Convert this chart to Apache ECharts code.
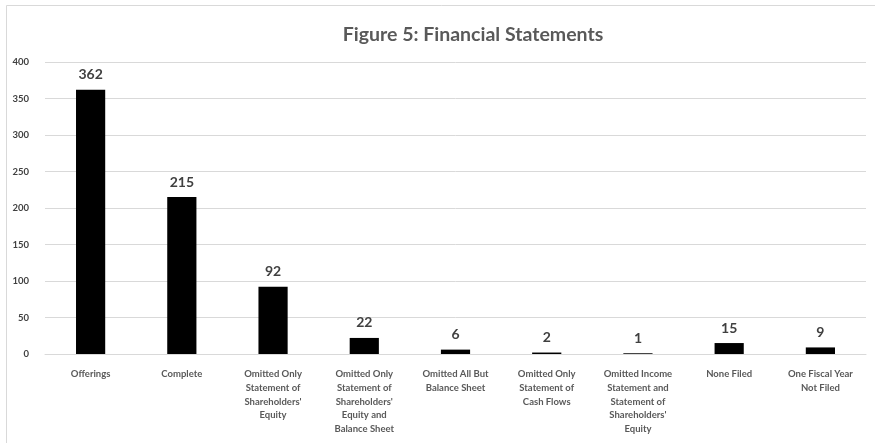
<!DOCTYPE html>
<html>
<head>
<meta charset="utf-8">
<script src="https://cdn.jsdelivr.net/npm/echarts@6/dist/echarts.min.js"></script>
<style>
  html, body { margin: 0; padding: 0; background: #fff; }
  #chart { width: 875px; height: 443px; }
</style>
</head>
<body>
<div id="chart"></div>
<script>
// Filing categories and counts
const categories = [
  "Offerings",
  "Complete",
  "Omitted Only\nStatement of\nShareholders'\nEquity",
  "Omitted Only\nStatement of\nShareholders'\nEquity and\nBalance Sheet",
  "Omitted All But\nBalance Sheet",
  "Omitted Only\nStatement of\nCash Flows",
  "Omitted Income\nStatement and\nStatement of\nShareholders'\nEquity",
  "None Filed",
  "One Fiscal Year\nNot Filed"
];
const counts = [362, 215, 92, 22, 6, 2, 1, 15, 9];
const yTicks = { min: 0, max: 400, interval: 50 };

const chart = echarts.init(document.getElementById('chart'));
const fontFamily = 'Lato, "Open Sans", "Liberation Sans", sans-serif';

chart.setOption({
  backgroundColor: '#ffffff',
  animation: false,
  graphic: [{
    type: 'rect',
    shape: { x: 6.5, y: 5.5, width: 900, height: 460 },
    style: { fill: 'none', stroke: '#d9d9d9', lineWidth: 1 },
    silent: true
  }],
  title: {
    text: 'Figure 5: Financial Statements',
    left: 468,
    top: 20,
    textAlign: 'center',
    textStyle: { fontFamily, fontSize: 19.5, fontWeight: 'bold', color: '#595959' }
  },
  grid: { left: 45, right: 9, top: 62, bottom: 89, containLabel: false },
  xAxis: {
    type: 'category',
    data: categories,
    axisLine: { show: true, lineStyle: { color: '#d9d9d9', width: 1 } },
    axisTick: { show: false },
    axisLabel: {
      interval: 0,
      margin: 13,
      fontFamily,
      fontSize: 9.5,
      fontWeight: 'bold',
      color: '#595959',
      lineHeight: 13.8
    }
  },
  yAxis: {
    type: 'value',
    min: yTicks.min,
    max: yTicks.max,
    interval: yTicks.interval,
    axisLine: { show: false },
    axisTick: { show: false },
    splitLine: { lineStyle: { color: '#d9d9d9', width: 1 } },
    axisLabel: {
      margin: 16,
      fontFamily,
      fontSize: 9.5,
      fontWeight: 'bold',
      color: '#404040'
    }
  },
  series: [{
    type: 'bar',
    data: counts,
    barWidth: '32%',
    itemStyle: { color: '#000000' },
    label: {
      show: true,
      position: 'top',
      distance: 8,
      fontFamily,
      fontSize: 14,
      fontWeight: 'bold',
      color: '#404040'
    }
  }]
});
</script>
</body>
</html>
